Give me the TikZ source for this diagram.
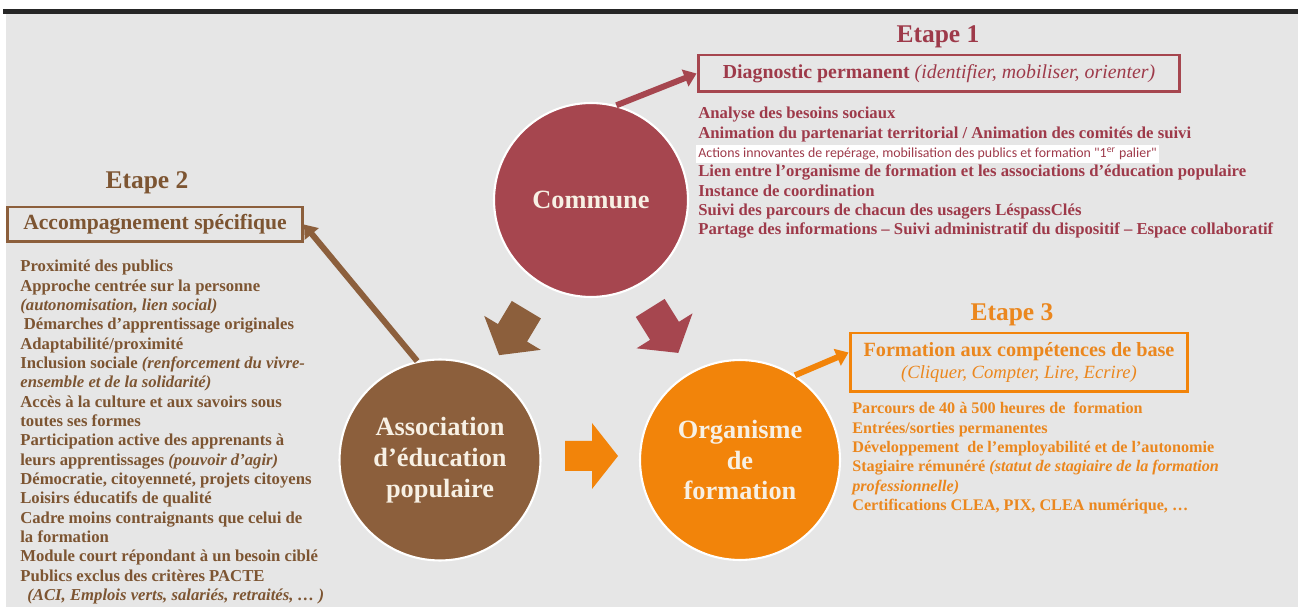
\documentclass[tikz,border=0pt]{standalone}
\usepackage{tikz}
\usepackage{xcolor}
\usepackage{fontspec}
\setmainfont{Liberation Serif}
\newfontfamily\markfont{Carlito}
\usetikzlibrary{positioning,arrows.meta}

\definecolor{pagegray}{HTML}{E6E6E6}
\definecolor{communered}{HTML}{A6464F}
\definecolor{communetext}{HTML}{9E3A4A}
\definecolor{assobrown}{HTML}{8C5F3C}
\definecolor{assotext}{HTML}{7D5532}
\definecolor{formorange}{HTML}{F2840A}
\definecolor{formtext}{HTML}{EB871E}
\definecolor{circletext}{HTML}{F7F0E4}
\setlength{\fboxsep}{1.5pt}
\setlength{\lineskiplimit}{-5pt}

\begin{document}
\begin{tikzpicture}[x=0.02cm, y=-0.02cm,
  stage/.style={circle, draw=white, line width=1.2pt, inner sep=0pt, align=center,
    text=circletext, font=\fontsize{15}{17.5}\selectfont\bfseries},
  etape/.style={font=\fontsize{14.5}{16}\selectfont\bfseries},
  stepframe/.style={draw, line width=1.7pt, inner sep=0pt, align=center},
  itemlist/.style={anchor=north west, inner sep=0pt, align=left,
    font=\fontsize{9.5}{11}\selectfont\bfseries},
  link/.style={line width=3.4pt, -{Triangle[length=7pt,width=10pt]}}]
\useasboundingbox (0,0) rectangle (1298,607);
% page and top bar
\fill[white] (0,0) rectangle (1298,607);
\fill[pagegray] (6,13) rectangle (1298,607);
\fill[black!85] (3,9) rectangle (1298,14);

% the three actors
\node[stage, fill=communered, minimum size=3.88cm] (commune) at (591,200) {Commune};
\node[stage, fill=assobrown, minimum size=4.02cm] (asso) at (440,460) {Association\\d’éducation\\populaire};
\node[stage, fill=formorange, minimum size=4cm] (organisme) at (740,460) {Organisme\\de\\formation};

% block arrows between the circles
\fill[assobrown, shift={(513,332)}, rotate=239] (-26,-17) -- (1,-17) -- (1,-33) -- (27,0) -- (1,33) -- (1,17) -- (-26,17) -- cycle;
\fill[communered, shift={(664,330)}, rotate=-58] (-26,-17) -- (1,-17) -- (1,-33) -- (27,0) -- (1,33) -- (1,17) -- (-26,17) -- cycle;
\fill[formorange, shift={(591,456)}] (-26,-15) -- (1,-15) -- (1,-33) -- (27,0) -- (1,33) -- (1,15) -- (-26,15) -- cycle;

% Etape 1
\node[etape, text=communetext] (title1) at (938,37) {Etape 1};
\node[stepframe, draw=communered, text=communetext, minimum width=9.64cm, minimum height=0.74cm,
  font=\fontsize{11.3}{13}\selectfont\bfseries] (diag) at (939,73.5)
  {Diagnostic permanent {\mdseries\itshape (identifier, mobiliser, orienter)}};
\node[itemlist, text=communetext] (list1) at (698,107) {Analyse des besoins sociaux\\
  Animation du partenariat territorial / Animation des comités de suivi\\
  \kern-1.5pt\colorbox{white}{\markfont\mdseries\fontsize{7.9}{11}\selectfont Actions innovantes de repérage, mobilisation des publics et formation "1\textsuperscript{er} palier"}\\
  Lien entre l’organisme de formation et les associations d’éducation populaire\\
  Instance de coordination\\
  Suivi des parcours de chacun des usagers LéspassClés\\
  Partage des informations – Suivi administratif du dispositif – Espace collaboratif};

% Etape 2
\node[etape, text=assotext] (title2) at (147,183) {Etape 2};
\node[stepframe, draw=assobrown, text=assotext, minimum width=5.9cm, minimum height=0.7cm,
  font=\fontsize{12.3}{14}\selectfont\bfseries] (accomp) at (155,224.5) {Accompagnement spécifique};
\node[itemlist, text=assotext] (list2) at (20,260) {Proximité des publics\\
  Approche centrée sur la personne\\
  \textit{(autonomisation, lien social)}\\
  \hspace{2pt}Démarches d’apprentissage originales\\
  Adaptabilité/proximité\\
  Inclusion sociale \textit{(renforcement du vivre-}\\
  \textit{ensemble et de la solidarité)}\\
  Accès à la culture et aux savoirs sous\\
  toutes ses formes\\
  Participation active des apprenants à\\
  leurs apprentissages \textit{(pouvoir d’agir)}\\
  Démocratie, citoyenneté, projets citoyens\\
  Loisirs éducatifs de qualité\\
  Cadre moins contraignants que celui de\\
  la formation\\
  Module court répondant à un besoin ciblé\\
  Publics exclus des critères PACTE\\
  \hspace{4pt}\textit{(ACI, Emplois verts, salariés, retraités, … )}};

% Etape 3
\node[etape, text=formtext] (title3) at (1012,315) {Etape 3};
\node[stepframe, draw=formorange, text=formtext, minimum width=6.76cm, minimum height=1.18cm,
  font=\fontsize{11.5}{13}\selectfont\bfseries] (competences) at (1019,362.5)
  {Formation aux compétences de base\\{\mdseries\itshape\fontsize{10.6}{13}\selectfont (Cliquer, Compter, Lire, Ecrire)}};
\node[itemlist, text=formtext, font=\fontsize{9.2}{11}\selectfont\bfseries] (list3) at (852,402)
  {Parcours de 40 à 500 heures de \ formation\\
  Entrées/sorties permanentes\\
  Développement \ de l’employabilité et de l’autonomie\\
  Stagiaire rémunéré \textit{(statut de stagiaire de la formation}\\
  \textit{professionnelle)}\\
  Certifications CLEA, PIX, CLEA numérique, …};

% links from the circles to their steps
\draw[link, communered] (commune.75) -- (diag.west);
\draw[link, assobrown] (asso.103) -- (accomp.east);
\draw[link, formorange] (organisme.57) -- ([yshift=0.2cm]competences.west);
\end{tikzpicture}
\end{document}
